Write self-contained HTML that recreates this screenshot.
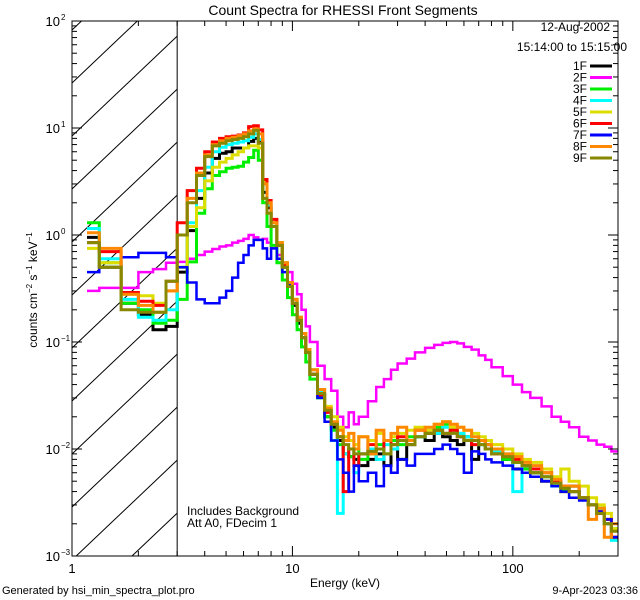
<!DOCTYPE html>
<html><head><meta charset="utf-8">
<style>
html,body{margin:0;padding:0;background:#fff;width:640px;height:600px;overflow:hidden;}
svg{display:block;font-family:"Liberation Sans",sans-serif;}
</style></head>
<body>
<svg id="chart" width="640" height="600" viewBox="0 0 640 600" xmlns="http://www.w3.org/2000/svg">
<rect width="640" height="600" fill="#fff"/>
<text x="343" y="15" text-anchor="middle" font-size="14">Count Spectra for RHESSI Front Segments</text>
<g id="hatch"></g>
<g id="series"></g>
<g id="axes"></g>
<text x="610" y="31" text-anchor="end" font-size="12">12-Aug-2002</text>
<text x="627" y="51" text-anchor="end" font-size="12">15:14:00 to 15:15:00</text>
<g id="legend"></g>
<text x="187" y="515" font-size="12">Includes Background</text>
<text x="187" y="527" font-size="12">Att A0, FDecim 1</text>
<text x="345" y="587" text-anchor="middle" font-size="12">Energy (keV)</text>
<text transform="translate(37,290) rotate(-90)" text-anchor="middle" font-size="12">counts cm<tspan font-size="8" dy="-5">−2</tspan><tspan dy="5"> s</tspan><tspan font-size="8" dy="-5">−1</tspan><tspan dy="5"> keV</tspan><tspan font-size="8" dy="-5">−1</tspan></text>
<text x="2" y="594" font-size="11">Generated by hsi_min_spectra_plot.pro</text>
<text x="638" y="594" text-anchor="end" font-size="11">9-Apr-2023 03:36</text>
</svg>
<script>
const edges=[1.17,1.33,1.67,2,2.33,2.67,3,3.33,3.67,4,4.33,4.67,5,5.33,5.67,6,6.33,6.67,7,7.33,7.67,8,8.5,9,9.5,10,10.5,11,11.5,12,13,14,15,16,17,18,19,20,22,24,26,28,30,33,36,40,44,48,52,56,60,65,70,75,80,90,100,110,120,135,150,165,180,200,220,240,260,280,300];
const xTicks=[1,10,100];
const yTickExps=[2,1,0,-1,-2,-3];
const seriesNames=["1F","2F","3F","4F","5F","6F","7F","8F","9F"];
const seriesColors=["#000000","#ff00ff","#00ee00","#00ffff","#dddd00","#ff0000","#0000ff","#ff8800","#888800"];
const s1F=[0.95,0.5,0.23,0.18,0.13,0.14, 0.45,1.1,2.2,3.8,5.2,5.8,6.0,6.5,6.5,6.5,7.5,8.0,7.5,2.5,1.8, 1.2,0.8,0.5,0.33,0.22,0.15,0.11,0.08,0.05,0.032,0.02,0.016,0.012,0.009,0.0085,0.008,0.007,0.008,0.009,0.007,0.01,0.008,0.011,0.013,0.012,0.014,0.013,0.012,0.011,0.013,0.008,0.012,0.011,0.0095,0.008,0.0065,0.007,0.006,0.005,0.0048,0.004,0.0045,0.0035,0.003,0.0025,0.002,0.0015];
const s2F=[0.3,0.32,0.32,0.45,0.48,0.55, 0.56,0.6,0.65,0.7,0.74,0.78,0.8,0.85,0.88,0.92,1.0,0.95,0.9,0.92,0.85, 0.75,0.65,0.55,0.45,0.35,0.28,0.2,0.14,0.1,0.06,0.045,0.035,0.02,0.016,0.022,0.017,0.02,0.028,0.038,0.045,0.055,0.063,0.07,0.08,0.088,0.094,0.098,0.1,0.097,0.09,0.085,0.075,0.068,0.058,0.048,0.04,0.034,0.03,0.025,0.02,0.018,0.016,0.013,0.012,0.011,0.0105,0.0095];
const s3F=[1.3,0.55,0.23,0.2,0.15,0.16, 0.25,0.56,1.6,2.7,3.6,3.9,4.2,4.3,4.4,4.8,5.3,6.2,5.0,2.0,1.2, 0.8,0.55,0.38,0.26,0.18,0.13,0.09,0.065,0.045,0.03,0.02,0.015,0.011,0.009,0.0085,0.01,0.008,0.009,0.011,0.009,0.012,0.011,0.013,0.013,0.014,0.016,0.017,0.015,0.014,0.013,0.012,0.011,0.01,0.0095,0.008,0.0075,0.0065,0.006,0.0055,0.0048,0.0042,0.004,0.0035,0.003,0.0028,0.0022,0.0018];
const s4F=[1.15,0.6,0.25,0.17,0.16,0.2, 0.5,1.3,2.6,4.3,6.0,6.6,7.0,7.2,7.4,7.6,8.2,8.8,7.8,3.0,1.9, 1.3,0.85,0.55,0.36,0.25,0.17,0.12,0.085,0.055,0.035,0.023,0.012,0.0025,0.009,0.01,0.006,0.009,0.01,0.008,0.011,0.01,0.012,0.012,0.013,0.015,0.014,0.016,0.015,0.014,0.013,0.012,0.011,0.01,0.0095,0.009,0.004,0.007,0.0065,0.0055,0.0045,0.0045,0.004,0.0035,0.003,0.0027,0.002,0.0014];
const s5F=[0.75,0.55,0.28,0.27,0.23,0.3, 0.5,1.2,1.8,3.2,4.3,4.8,5.2,5.6,6.0,6.5,6.8,6.8,6.5,3.2,2.0, 1.3,0.85,0.55,0.36,0.25,0.17,0.12,0.085,0.055,0.036,0.025,0.02,0.016,0.013,0.012,0.011,0.013,0.012,0.014,0.012,0.013,0.014,0.015,0.016,0.015,0.017,0.018,0.016,0.016,0.015,0.014,0.013,0.012,0.011,0.01,0.009,0.008,0.0075,0.0065,0.0055,0.0065,0.005,0.0045,0.0035,0.003,0.0025,0.0018];
const s6F=[0.85,0.7,0.29,0.24,0.22,0.37, 1.3,2.6,4.2,6.0,7.4,8.0,8.3,8.4,8.6,9.0,10.3,10.5,9.6,3.3,2.1, 1.4,0.8,0.52,0.33,0.23,0.16,0.11,0.08,0.05,0.032,0.022,0.017,0.013,0.004,0.01,0.007,0.009,0.011,0.01,0.012,0.011,0.013,0.012,0.015,0.014,0.015,0.014,0.015,0.013,0.012,0.011,0.012,0.01,0.009,0.0085,0.008,0.007,0.0065,0.006,0.005,0.0045,0.004,0.0035,0.003,0.0026,0.0022,0.0015];
const s7F=[0.45,0.5,0.62,0.68,0.68,0.62, 0.5,0.36,0.25,0.23,0.23,0.26,0.3,0.4,0.55,0.65,0.8,0.9,0.9,0.75,0.6, 0.75,0.6,0.45,0.35,0.25,0.17,0.12,0.08,0.05,0.03,0.018,0.012,0.008,0.006,0.004,0.007,0.005,0.006,0.0045,0.007,0.006,0.008,0.007,0.009,0.009,0.01,0.011,0.01,0.009,0.006,0.0095,0.009,0.008,0.0075,0.007,0.0065,0.006,0.0055,0.005,0.0045,0.004,0.0035,0.0033,0.003,0.0026,0.0022,0.0015];
const s8F=[1.05,0.75,0.28,0.22,0.19,0.3, 1.0,2.2,3.8,5.6,7.0,7.6,8.0,8.2,8.5,8.8,9.4,9.8,8.8,3.0,2.0, 1.3,0.85,0.55,0.36,0.25,0.17,0.12,0.085,0.055,0.036,0.024,0.018,0.015,0.012,0.014,0.01,0.013,0.009,0.015,0.012,0.014,0.016,0.012,0.015,0.016,0.017,0.018,0.017,0.016,0.015,0.013,0.012,0.011,0.01,0.009,0.0085,0.0075,0.007,0.006,0.0052,0.0045,0.0045,0.0035,0.0022,0.0028,0.0015,0.002];
const s9F=[0.85,0.5,0.2,0.19,0.19,0.37, 1.0,2.0,3.6,5.4,6.8,7.2,7.6,7.8,8.0,8.3,8.8,9.5,7.2,2.2,1.6, 1.2,0.8,0.5,0.33,0.23,0.16,0.11,0.08,0.05,0.033,0.023,0.017,0.013,0.011,0.01,0.009,0.009,0.0095,0.01,0.009,0.011,0.012,0.011,0.013,0.014,0.015,0.014,0.014,0.013,0.012,0.012,0.011,0.01,0.009,0.0085,0.0075,0.007,0.006,0.0055,0.0048,0.0043,0.004,0.0035,0.003,0.0025,0.002,0.0017];
const seriesData=[s1F,s2F,s3F,s4F,s5F,s6F,s7F,s8F,s9F];
const shadeMax=3;

const NS="http://www.w3.org/2000/svg";
const L=72,R=618,T=21,B=556;
const xMin=1,xMax=300,yMinE=-3,yMaxE=2;
function X(e){return L+(Math.log10(e)-Math.log10(xMin))/(Math.log10(xMax)-Math.log10(xMin))*(R-L);}
function Y(v){let lv=Math.log10(Math.max(v,1e-3));lv=Math.min(lv,yMaxE);return B-(lv-yMinE)/(yMaxE-yMinE)*(B-T);}
function mk(tag,attrs,parent){const el=document.createElementNS(NS,tag);for(const k in attrs)el.setAttribute(k,attrs[k]);parent.appendChild(el);return el;}

// hatch: lines y = y0 - k*(x-L), clipped analytically to the shaded rect
const hatch=document.getElementById('hatch');
const defs=mk('defs',{},hatch);
const SX=X(shadeMax);
const k=0.95, sp=53;
for(let y0=83-sp*3; y0<B+k*(SX-L)+sp; y0+=sp){
  // param: x in [L,SX], y=y0-k(x-L), must be within [T,B]
  let xa=L, xb=SX;
  // y<=B  => x >= L+(y0-B)/k
  xa=Math.max(xa, L+(y0-B)/k);
  // y>=T  => x <= L+(y0-T)/k
  xb=Math.min(xb, L+(y0-T)/k);
  if(xb-xa<0.5) continue;
  const ln=mk('line',{x1:xa.toFixed(1),y1:(y0-k*(xa-L)).toFixed(1),x2:xb.toFixed(1),y2:(y0-k*(xb-L)).toFixed(1),stroke:'#000','stroke-width':1},hatch);
  
  
}
const sl=mk('line',{x1:SX,y1:T,x2:SX,y2:B,stroke:'#000','stroke-width':1},hatch);



// series
const sg=document.getElementById('series');
const scp=mk('clipPath',{id:'pclip'},defs);
mk('rect',{x:L,y:T,width:R-L,height:B-T},scp);
sg.setAttribute('clip-path','url(#pclip)');
seriesData.forEach((vals,si)=>{
  let d='';
  for(let i=0;i<vals.length;i++){
    const x0=X(edges[i]),x1=X(edges[i+1]),y=Y(vals[i]);
    d+=(i===0?'M':'L')+x0.toFixed(1)+','+y.toFixed(1)+'H'+x1.toFixed(1);
  }
  const p=mk('path',{d:d,fill:'none',stroke:seriesColors[si],'stroke-width':si===1||si===6?2.5:3,'stroke-linejoin':'miter'},sg);
  
  
});

// axes
const ax=document.getElementById('axes');
const fr=mk('rect',{x:L,y:T,width:R-L,height:B-T,fill:'none',stroke:'#000','stroke-width':1},ax);


for(let dec=0;dec<3;dec++){
  for(let m=1;m<10;m++){
    const e=m*Math.pow(10,dec);
    if(e>xMax)break;
    const x=X(e),len=m===1?10:5;
    mk('line',{x1:x,y1:B,x2:x,y2:B-len,stroke:'#000'},ax);
    mk('line',{x1:x,y1:T,x2:x,y2:T+len,stroke:'#000'},ax);
  }
}
xTicks.forEach(t=>{
  const tx=mk('text',{x:X(t),y:B+17,'text-anchor':'middle','font-size':13},ax);
  tx.textContent=String(t);
  
  
});
for(let ex=yMinE;ex<=yMaxE;ex++){
  for(let m=1;m<10;m++){
    if(ex===yMaxE&&m>1)break;
    const y=Y(m*Math.pow(10,ex)),len=m===1?10:5;
    mk('line',{x1:L,y1:y,x2:L+len,y2:y,stroke:'#000'},ax);
    mk('line',{x1:R,y1:y,x2:R-len,y2:y,stroke:'#000'},ax);
  }
}
yTickExps.forEach(ex=>{
  const tx=mk('text',{x:L-12,y:Y(Math.pow(10,ex))+5,'text-anchor':'end','font-size':13},ax);
  tx.textContent='10';
  
  
  const sup=mk('text',{x:L-11,y:Y(Math.pow(10,ex))-1,'text-anchor':'start','font-size':8},ax);
  sup.textContent=ex<0?'−'+(-ex):String(ex);
  
  
});

// legend
const lg=document.getElementById('legend');
seriesNames.forEach((n,i)=>{
  const y=66+i*11.5;
  const t=mk('text',{x:587,y:y+4,'text-anchor':'end','font-size':12},lg);
  t.textContent=n;
  
  
  const l=mk('line',{x1:590,y1:y,x2:612,y2:y,stroke:seriesColors[i],'stroke-width':3},lg);
  
  
});
</script>
</body></html>
